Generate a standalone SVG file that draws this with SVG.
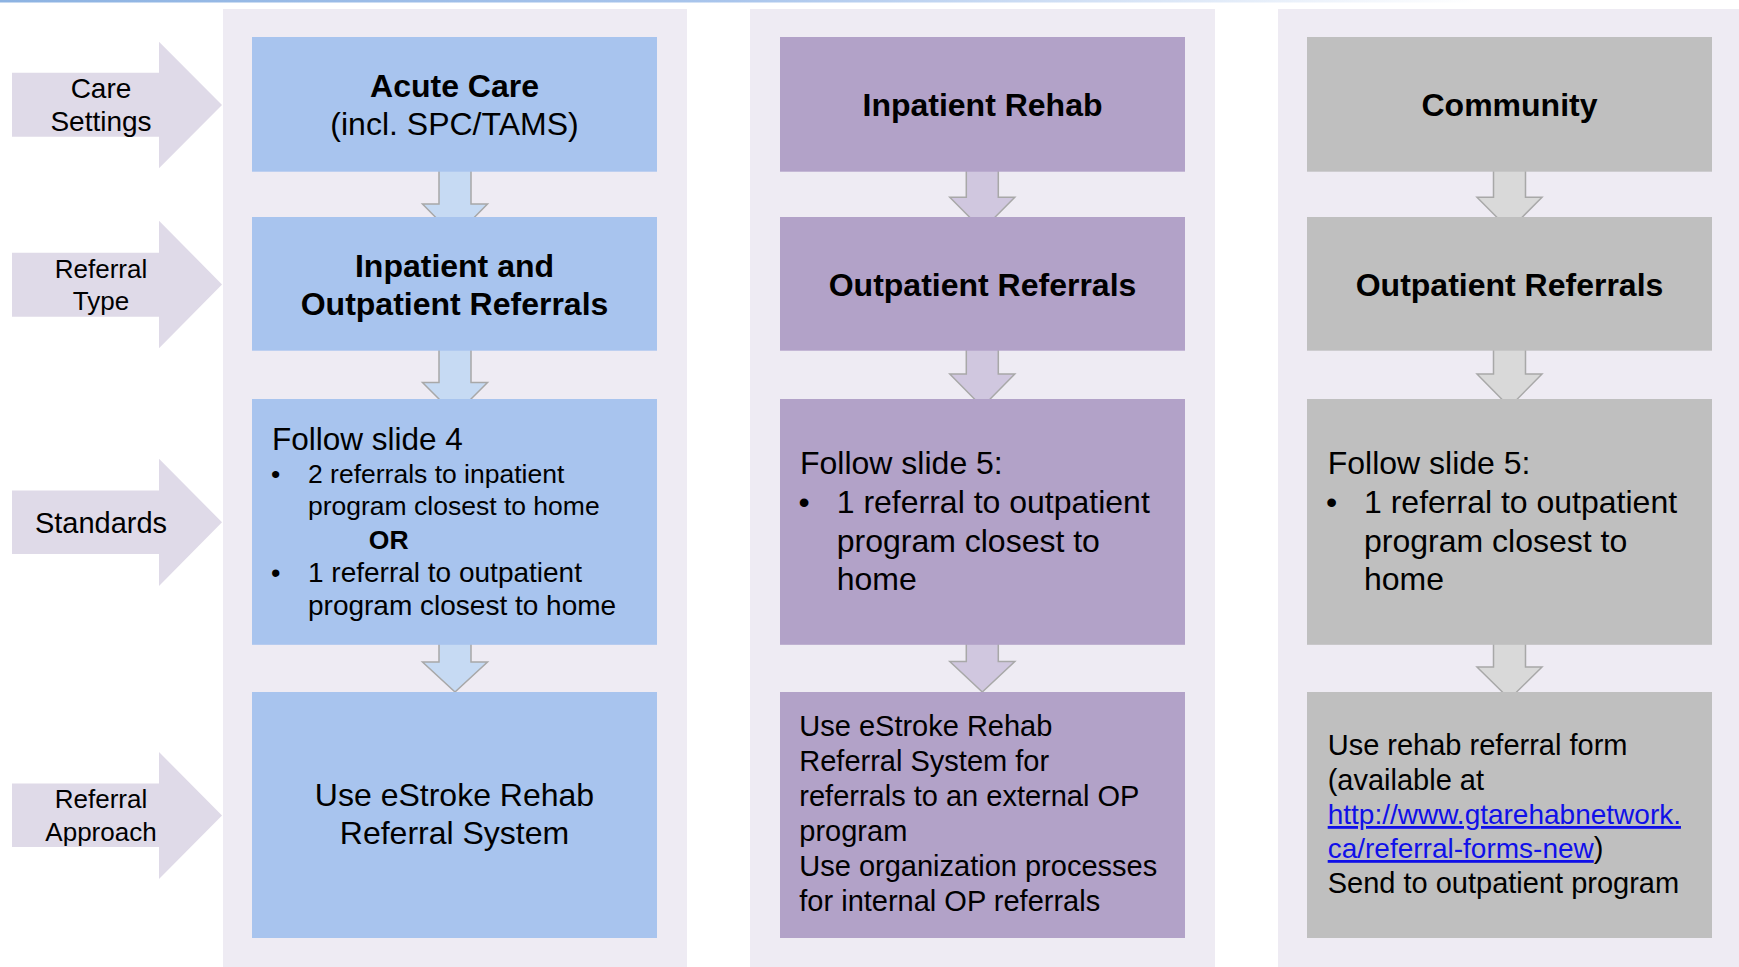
<svg xmlns="http://www.w3.org/2000/svg" width="1739" height="967" viewBox="0 0 1739 967">
<defs>
<linearGradient id="topline" x1="0" y1="0" x2="1" y2="0">
<stop offset="0" stop-color="#8DB3E2"/>
<stop offset="0.42" stop-color="#A9C5EC"/>
<stop offset="0.85" stop-color="#FFFFFF"/>
</linearGradient>
</defs>
<style>
text{font-family:"Liberation Sans",Arial,Helvetica,sans-serif;fill:#000}
.b{font-weight:bold}
.c{text-anchor:middle}
.panel{fill:#EEEBF3}
.side{fill:#DFDAE8}
.blue{fill:#A8C4EE}
.purple{fill:#B2A2C8}
.grey{fill:#BFBFBF}
.a1{fill:#C6DAF3;stroke:#A8A8A8;stroke-width:1.5}
.a2{fill:#D0C7DF;stroke:#A8A8A8;stroke-width:1.5}
.a3{fill:#D9D9D9;stroke:#A8A8A8;stroke-width:1.5}
.lk{fill:#1010E8;text-decoration:underline;font-size:28px}
</style>
<rect x="0" y="0" width="1739" height="2.5" fill="url(#topline)"/>
<g id="panels">
<rect class="panel" x="223" y="9" width="464" height="958"/>
<rect class="panel" x="750" y="9" width="465" height="958"/>
<rect class="panel" x="1278" y="9" width="461" height="958"/>
</g>
<g id="label-care-settings">
<polygon class="side" points="12,72.7 159,72.7 159,41.7 222,105 159,168.3 159,136.7 12,136.7"/>
<text class="c" x="101" y="97.5" font-size="28">Care</text>
<text class="c" x="101" y="131" font-size="28">Settings</text>
</g>
<g id="label-referral-type">
<polygon class="side" points="12,252.7 159,252.7 159,220.7 222,284.5 159,348.3 159,316.7 12,316.7"/>
<text class="c" x="101" y="277.7" font-size="26">Referral</text>
<text class="c" x="101" y="310" font-size="26">Type</text>
</g>
<g id="label-standards">
<polygon class="side" points="12,490.5 159,490.5 159,458.7 222,522.3 159,586 159,554 12,554"/>
<text class="c" x="101" y="533" font-size="29">Standards</text>
</g>
<g id="label-referral-approach">
<polygon class="side" points="12,783.4 159,783.4 159,752 222,815.5 159,879 159,847 12,847"/>
<text class="c" x="101" y="808" font-size="26">Referral</text>
<text class="c" x="101" y="841" font-size="26">Approach</text>
</g>
<g id="connectors">
<polygon class="a1" points="439,168 471,168 471,204 487.5,204 455,237 422.5,204 439,204"/>
<polygon class="a1" points="439,348 471,348 471,382.5 487.5,382.5 455,415 422.5,382.5 439,382.5"/>
<polygon class="a1" points="439,640 471,640 471,662 487.5,662 455,692 422.5,662 439,662"/>
<polygon class="a2" points="966.3,168 998.3,168 998.3,197.3 1014.8,197.3 982.3,230 949.8,197.3 966.3,197.3"/>
<polygon class="a2" points="966.3,348 998.3,348 998.3,374 1014.8,374 982.3,407 949.8,374 966.3,374"/>
<polygon class="a2" points="966.3,640 998.3,640 998.3,661.6 1014.8,661.6 982.3,692 949.8,661.6 966.3,661.6"/>
<polygon class="a3" points="1493.5,168 1525.5,168 1525.5,197.3 1542,197.3 1509.5,230 1477,197.3 1493.5,197.3"/>
<polygon class="a3" points="1493.5,348 1525.5,348 1525.5,374 1542,374 1509.5,407 1477,374 1493.5,374"/>
<polygon class="a3" points="1493.5,640 1525.5,640 1525.5,667 1542,667 1509.5,699 1477,667 1493.5,667"/>
</g>
<g id="acute-care">
<rect class="blue" x="252" y="37" width="405" height="134.7"/>
<text class="c b" x="454.5" y="97" font-size="32">Acute Care</text>
<text class="c" x="454.5" y="135" font-size="32">(incl. SPC/TAMS)</text>
</g>
<g id="acute-referral-type">
<rect class="blue" x="252" y="217" width="405" height="133.7"/>
<text class="c b" x="454.5" y="276.5" font-size="32">Inpatient and</text>
<text class="c b" x="454.5" y="315" font-size="32">Outpatient Referrals</text>
</g>
<g id="acute-standards">
<rect class="blue" x="252" y="399" width="405" height="245.8"/>
<text x="272" y="449.5" font-size="31.5">Follow slide 4</text>
<text x="271" y="483" font-size="26.5">•</text>
<text x="308" y="483" font-size="26.5">2 referrals to inpatient</text>
<text x="308" y="515" font-size="26.5">program closest to home</text>
<text class="b" x="368.8" y="548.5" font-size="26.5">OR</text>
<text x="271" y="582" font-size="27">•</text>
<text x="308" y="582" font-size="28">1 referral to outpatient</text>
<text x="308" y="615" font-size="28">program closest to home</text>
</g>
<g id="acute-approach">
<rect class="blue" x="252" y="692" width="405" height="246"/>
<text class="c" x="454.5" y="806" font-size="32">Use eStroke Rehab</text>
<text class="c" x="454.5" y="844" font-size="32">Referral System</text>
</g>
<g id="inpatient-rehab">
<rect class="purple" x="780" y="37" width="405" height="134.7"/>
<text class="c b" x="982.5" y="116" font-size="32">Inpatient Rehab</text>
</g>
<g id="rehab-referral-type">
<rect class="purple" x="780" y="217" width="405" height="133.7"/>
<text class="c b" x="982.5" y="296" font-size="32">Outpatient Referrals</text>
</g>
<g id="rehab-standards">
<rect class="purple" x="780" y="399" width="405" height="245.8"/>
<text x="800" y="474" font-size="32">Follow slide 5:</text>
<text x="798.5" y="513" font-size="32">•</text>
<text x="836.7" y="513" font-size="32">1 referral to outpatient</text>
<text x="836.7" y="551.5" font-size="32">program closest to</text>
<text x="836.7" y="590" font-size="32">home</text>
</g>
<g id="rehab-approach">
<rect class="purple" x="780" y="692" width="405" height="246"/>
<text x="799.3" y="736" font-size="29">Use eStroke Rehab</text>
<text x="799.3" y="771" font-size="29">Referral System for</text>
<text x="799.3" y="806" font-size="29">referrals to an external OP</text>
<text x="799.3" y="841" font-size="29">program</text>
<text x="799.3" y="876" font-size="29">Use organization processes</text>
<text x="799.3" y="911" font-size="29">for internal OP referrals</text>
</g>
<g id="community">
<rect class="grey" x="1307" y="37" width="405" height="134.7"/>
<text class="c b" x="1509.5" y="116" font-size="32">Community</text>
</g>
<g id="community-referral-type">
<rect class="grey" x="1307" y="217" width="405" height="133.7"/>
<text class="c b" x="1509.5" y="296" font-size="32">Outpatient Referrals</text>
</g>
<g id="community-standards">
<rect class="grey" x="1307" y="399" width="405" height="245.8"/>
<text x="1327.7" y="474" font-size="32">Follow slide 5:</text>
<text x="1326" y="513" font-size="32">•</text>
<text x="1364" y="513" font-size="32">1 referral to outpatient</text>
<text x="1364" y="551.5" font-size="32">program closest to</text>
<text x="1364" y="590" font-size="32">home</text>
</g>
<g id="community-approach">
<rect class="grey" x="1307" y="692" width="405" height="246"/>
<text x="1327.7" y="755" font-size="29">Use rehab referral form</text>
<text x="1327.7" y="789.5" font-size="29">(available at</text>
<text x="1327.7" y="824" font-size="29"><tspan class="lk">http://www.gtarehabnetwork.</tspan></text>
<text x="1327.7" y="858" font-size="29"><tspan class="lk">ca/referral-forms-new</tspan>)</text>
<text x="1327.7" y="892.5" font-size="29">Send to outpatient program</text>
</g>
</svg>
